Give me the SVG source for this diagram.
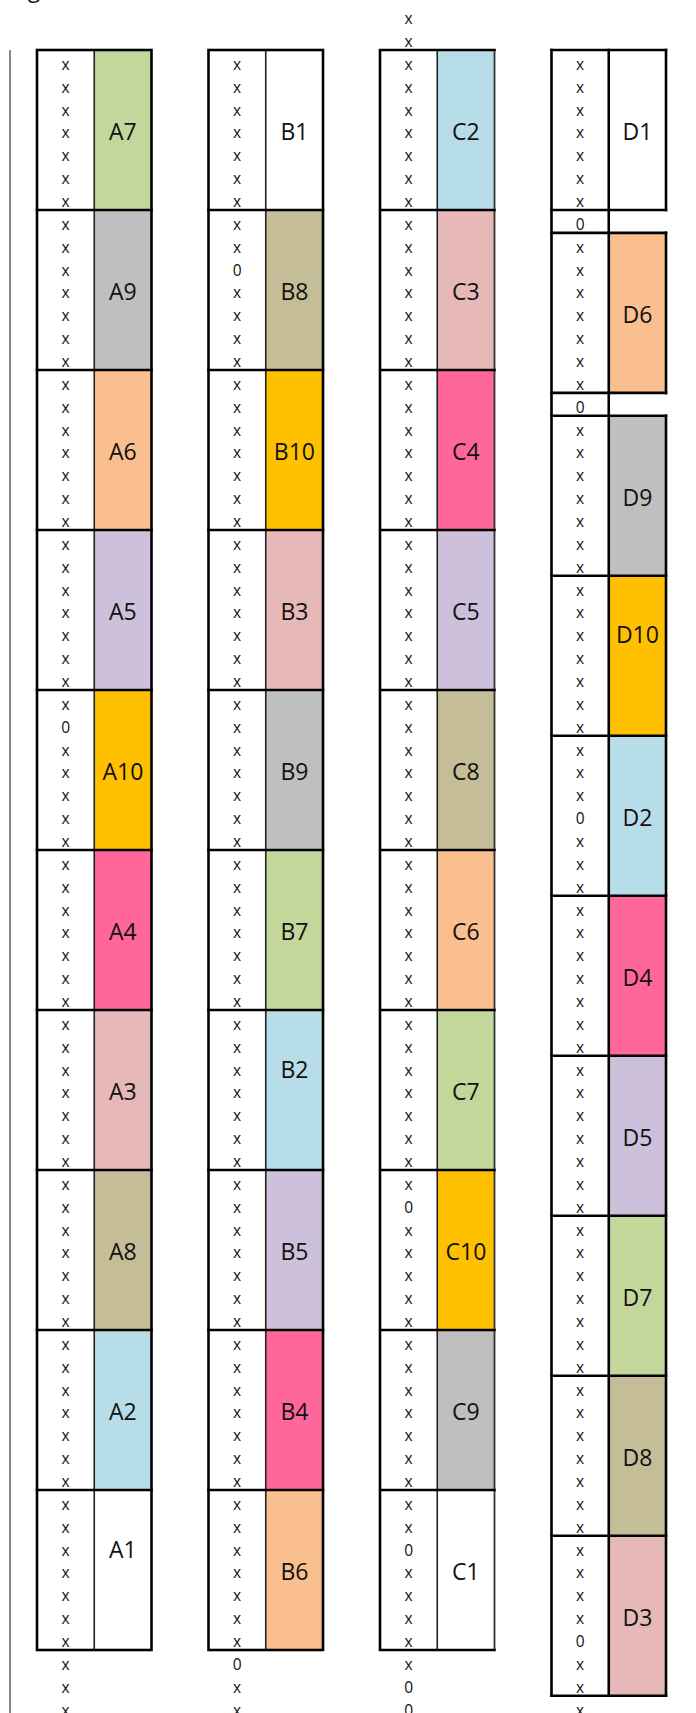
<svg xmlns="http://www.w3.org/2000/svg" width="696" height="1713" viewBox="0 0 696 1713">
<style>
.bg{fill:#ffffff}
.c1{fill:#ffffff}.c2{fill:#b7dee8}.c3{fill:#e6b8b7}.c4{fill:#ff6699}.c5{fill:#ccc0da}
.c6{fill:#f9bf8f}.c7{fill:#c4d79b}.c8{fill:#c4bd97}.c9{fill:#bfbfbf}.c10{fill:#ffc000}
text{font-family:"Open Sans","Liberation Sans",sans-serif;fill:#111;text-anchor:middle}
.x{font-size:15.5px}
.lab{font-size:23px}
.thick{fill:none;stroke:#000;stroke-width:2.6;stroke-linecap:square}
.thin{fill:none;stroke:#222;stroke-width:1.6}
.cthin{fill:none;stroke:#333;stroke-width:1.8}
.edge{fill:none;stroke:#555;stroke-width:1.4}
</style>
<rect class="bg" x="0" y="0" width="696" height="1713"/>
<text class="lab" x="34" y="-3.5">g</text>
<line class="edge" x1="10" y1="50" x2="10" y2="1713"/>

<!-- Column A -->
<g id="colA" transform="translate(37,0)">
<g id="A7" transform="translate(0,50)"><rect class="c7" x="57.25" width="57.25" height="160"/><text class="x"><tspan x="28.6" y="19.86">x</tspan><tspan x="28.6" y="42.71">x</tspan><tspan x="28.6" y="65.57">x</tspan><tspan x="28.6" y="88.43">x</tspan><tspan x="28.6" y="111.29">x</tspan><tspan x="28.6" y="134.14">x</tspan><tspan x="28.6" y="157">x</tspan></text><text class="lab" x="85.9" y="90.43">A7</text></g>
<g id="A9" transform="translate(0,210)"><rect class="c9" x="57.25" width="57.25" height="160"/><text class="x"><tspan x="28.6" y="19.86">x</tspan><tspan x="28.6" y="42.71">x</tspan><tspan x="28.6" y="65.57">x</tspan><tspan x="28.6" y="88.43">x</tspan><tspan x="28.6" y="111.29">x</tspan><tspan x="28.6" y="134.14">x</tspan><tspan x="28.6" y="157">x</tspan></text><text class="lab" x="85.9" y="90.43">A9</text></g>
<g id="A6" transform="translate(0,370)"><rect class="c6" x="57.25" width="57.25" height="160"/><text class="x"><tspan x="28.6" y="19.86">x</tspan><tspan x="28.6" y="42.71">x</tspan><tspan x="28.6" y="65.57">x</tspan><tspan x="28.6" y="88.43">x</tspan><tspan x="28.6" y="111.29">x</tspan><tspan x="28.6" y="134.14">x</tspan><tspan x="28.6" y="157">x</tspan></text><text class="lab" x="85.9" y="90.43">A6</text></g>
<g id="A5" transform="translate(0,530)"><rect class="c5" x="57.25" width="57.25" height="160"/><text class="x"><tspan x="28.6" y="19.86">x</tspan><tspan x="28.6" y="42.71">x</tspan><tspan x="28.6" y="65.57">x</tspan><tspan x="28.6" y="88.43">x</tspan><tspan x="28.6" y="111.29">x</tspan><tspan x="28.6" y="134.14">x</tspan><tspan x="28.6" y="157">x</tspan></text><text class="lab" x="85.9" y="90.43">A5</text></g>
<g id="A10" transform="translate(0,690)"><rect class="c10" x="57.25" width="57.25" height="160"/><text class="x"><tspan x="28.6" y="19.86">x</tspan><tspan x="28.6" y="42.71">0</tspan><tspan x="28.6" y="65.57">x</tspan><tspan x="28.6" y="88.43">x</tspan><tspan x="28.6" y="111.29">x</tspan><tspan x="28.6" y="134.14">x</tspan><tspan x="28.6" y="157">x</tspan></text><text class="lab" x="85.9" y="90.43">A10</text></g>
<g id="A4" transform="translate(0,850)"><rect class="c4" x="57.25" width="57.25" height="160"/><text class="x"><tspan x="28.6" y="19.86">x</tspan><tspan x="28.6" y="42.71">x</tspan><tspan x="28.6" y="65.57">x</tspan><tspan x="28.6" y="88.43">x</tspan><tspan x="28.6" y="111.29">x</tspan><tspan x="28.6" y="134.14">x</tspan><tspan x="28.6" y="157">x</tspan></text><text class="lab" x="85.9" y="90.43">A4</text></g>
<g id="A3" transform="translate(0,1010)"><rect class="c3" x="57.25" width="57.25" height="160"/><text class="x"><tspan x="28.6" y="19.86">x</tspan><tspan x="28.6" y="42.71">x</tspan><tspan x="28.6" y="65.57">x</tspan><tspan x="28.6" y="88.43">x</tspan><tspan x="28.6" y="111.29">x</tspan><tspan x="28.6" y="134.14">x</tspan><tspan x="28.6" y="157">x</tspan></text><text class="lab" x="85.9" y="90.43">A3</text></g>
<g id="A8" transform="translate(0,1170)"><rect class="c8" x="57.25" width="57.25" height="160"/><text class="x"><tspan x="28.6" y="19.86">x</tspan><tspan x="28.6" y="42.71">x</tspan><tspan x="28.6" y="65.57">x</tspan><tspan x="28.6" y="88.43">x</tspan><tspan x="28.6" y="111.29">x</tspan><tspan x="28.6" y="134.14">x</tspan><tspan x="28.6" y="157">x</tspan></text><text class="lab" x="85.9" y="90.43">A8</text></g>
<g id="A2" transform="translate(0,1330)"><rect class="c2" x="57.25" width="57.25" height="160"/><text class="x"><tspan x="28.6" y="19.86">x</tspan><tspan x="28.6" y="42.71">x</tspan><tspan x="28.6" y="65.57">x</tspan><tspan x="28.6" y="88.43">x</tspan><tspan x="28.6" y="111.29">x</tspan><tspan x="28.6" y="134.14">x</tspan><tspan x="28.6" y="157">x</tspan></text><text class="lab" x="85.9" y="90.43">A2</text></g>
<g id="A1" transform="translate(0,1490)"><rect class="c1" x="57.25" width="57.25" height="160"/><text class="x"><tspan x="28.6" y="19.86">x</tspan><tspan x="28.6" y="42.71">x</tspan><tspan x="28.6" y="65.57">x</tspan><tspan x="28.6" y="88.43">x</tspan><tspan x="28.6" y="111.29">x</tspan><tspan x="28.6" y="134.14">x</tspan><tspan x="28.6" y="157">x</tspan></text><text class="lab" x="85.9" y="67.57">A1</text></g>
<g id="A-below" transform="translate(0,1650)"><text class="x"><tspan x="28.6" y="19.86">x</tspan><tspan x="28.6" y="42.71">x</tspan><tspan x="28.6" y="65.57">x</tspan></text></g>
<g id="gridA">
<line class="thin" x1="57.25" y1="50" x2="57.25" y2="1650"/>
<path class="thick" d="M0 210H114.5M0 370H114.5M0 530H114.5M0 690H114.5M0 850H114.5M0 1010H114.5M0 1170H114.5M0 1330H114.5M0 1490H114.5"/>
<rect class="thick" x="0" y="50" width="114.5" height="1600"/>
</g>
</g>

<!-- Column B -->
<g id="colB" transform="translate(208.5,0)">
<g id="B1" transform="translate(0,50)"><rect class="c1" x="57.25" width="57.25" height="160"/><text class="x"><tspan x="28.6" y="19.86">x</tspan><tspan x="28.6" y="42.71">x</tspan><tspan x="28.6" y="65.57">x</tspan><tspan x="28.6" y="88.43">x</tspan><tspan x="28.6" y="111.29">x</tspan><tspan x="28.6" y="134.14">x</tspan><tspan x="28.6" y="157">x</tspan></text><text class="lab" x="85.9" y="90.43">B1</text></g>
<g id="B8" transform="translate(0,210)"><rect class="c8" x="57.25" width="57.25" height="160"/><text class="x"><tspan x="28.6" y="19.86">x</tspan><tspan x="28.6" y="42.71">x</tspan><tspan x="28.6" y="65.57">0</tspan><tspan x="28.6" y="88.43">x</tspan><tspan x="28.6" y="111.29">x</tspan><tspan x="28.6" y="134.14">x</tspan><tspan x="28.6" y="157">x</tspan></text><text class="lab" x="85.9" y="90.43">B8</text></g>
<g id="B10" transform="translate(0,370)"><rect class="c10" x="57.25" width="57.25" height="160"/><text class="x"><tspan x="28.6" y="19.86">x</tspan><tspan x="28.6" y="42.71">x</tspan><tspan x="28.6" y="65.57">x</tspan><tspan x="28.6" y="88.43">x</tspan><tspan x="28.6" y="111.29">x</tspan><tspan x="28.6" y="134.14">x</tspan><tspan x="28.6" y="157">x</tspan></text><text class="lab" x="85.9" y="90.43">B10</text></g>
<g id="B3" transform="translate(0,530)"><rect class="c3" x="57.25" width="57.25" height="160"/><text class="x"><tspan x="28.6" y="19.86">x</tspan><tspan x="28.6" y="42.71">x</tspan><tspan x="28.6" y="65.57">x</tspan><tspan x="28.6" y="88.43">x</tspan><tspan x="28.6" y="111.29">x</tspan><tspan x="28.6" y="134.14">x</tspan><tspan x="28.6" y="157">x</tspan></text><text class="lab" x="85.9" y="90.43">B3</text></g>
<g id="B9" transform="translate(0,690)"><rect class="c9" x="57.25" width="57.25" height="160"/><text class="x"><tspan x="28.6" y="19.86">x</tspan><tspan x="28.6" y="42.71">x</tspan><tspan x="28.6" y="65.57">x</tspan><tspan x="28.6" y="88.43">x</tspan><tspan x="28.6" y="111.29">x</tspan><tspan x="28.6" y="134.14">x</tspan><tspan x="28.6" y="157">x</tspan></text><text class="lab" x="85.9" y="90.43">B9</text></g>
<g id="B7" transform="translate(0,850)"><rect class="c7" x="57.25" width="57.25" height="160"/><text class="x"><tspan x="28.6" y="19.86">x</tspan><tspan x="28.6" y="42.71">x</tspan><tspan x="28.6" y="65.57">x</tspan><tspan x="28.6" y="88.43">x</tspan><tspan x="28.6" y="111.29">x</tspan><tspan x="28.6" y="134.14">x</tspan><tspan x="28.6" y="157">x</tspan></text><text class="lab" x="85.9" y="90.43">B7</text></g>
<g id="B2" transform="translate(0,1010)"><rect class="c2" x="57.25" width="57.25" height="160"/><text class="x"><tspan x="28.6" y="19.86">x</tspan><tspan x="28.6" y="42.71">x</tspan><tspan x="28.6" y="65.57">x</tspan><tspan x="28.6" y="88.43">x</tspan><tspan x="28.6" y="111.29">x</tspan><tspan x="28.6" y="134.14">x</tspan><tspan x="28.6" y="157">x</tspan></text><text class="lab" x="85.9" y="67.57">B2</text></g>
<g id="B5" transform="translate(0,1170)"><rect class="c5" x="57.25" width="57.25" height="160"/><text class="x"><tspan x="28.6" y="19.86">x</tspan><tspan x="28.6" y="42.71">x</tspan><tspan x="28.6" y="65.57">x</tspan><tspan x="28.6" y="88.43">x</tspan><tspan x="28.6" y="111.29">x</tspan><tspan x="28.6" y="134.14">x</tspan><tspan x="28.6" y="157">x</tspan></text><text class="lab" x="85.9" y="90.43">B5</text></g>
<g id="B4" transform="translate(0,1330)"><rect class="c4" x="57.25" width="57.25" height="160"/><text class="x"><tspan x="28.6" y="19.86">x</tspan><tspan x="28.6" y="42.71">x</tspan><tspan x="28.6" y="65.57">x</tspan><tspan x="28.6" y="88.43">x</tspan><tspan x="28.6" y="111.29">x</tspan><tspan x="28.6" y="134.14">x</tspan><tspan x="28.6" y="157">x</tspan></text><text class="lab" x="85.9" y="90.43">B4</text></g>
<g id="B6" transform="translate(0,1490)"><rect class="c6" x="57.25" width="57.25" height="160"/><text class="x"><tspan x="28.6" y="19.86">x</tspan><tspan x="28.6" y="42.71">x</tspan><tspan x="28.6" y="65.57">x</tspan><tspan x="28.6" y="88.43">x</tspan><tspan x="28.6" y="111.29">x</tspan><tspan x="28.6" y="134.14">x</tspan><tspan x="28.6" y="157">x</tspan></text><text class="lab" x="85.9" y="90.43">B6</text></g>
<g id="B-below" transform="translate(0,1650)"><text class="x"><tspan x="28.6" y="19.86">0</tspan><tspan x="28.6" y="42.71">x</tspan><tspan x="28.6" y="65.57">x</tspan></text></g>
<g id="gridB">
<line class="thin" x1="57.25" y1="50" x2="57.25" y2="1650"/>
<path class="thick" d="M0 210H114.5M0 370H114.5M0 530H114.5M0 690H114.5M0 850H114.5M0 1010H114.5M0 1170H114.5M0 1330H114.5M0 1490H114.5"/>
<rect class="thick" x="0" y="50" width="114.5" height="1600"/>
</g>
</g>

<!-- Column C -->
<g id="colC" transform="translate(380,0)">
<g id="C-above" transform="translate(0,4.29)"><text class="x"><tspan x="28.6" y="19.86">x</tspan><tspan x="28.6" y="42.71">x</tspan></text></g>
<g id="C2" transform="translate(0,50)"><rect class="c2" x="57.25" width="57.25" height="160"/><text class="x"><tspan x="28.6" y="19.86">x</tspan><tspan x="28.6" y="42.71">x</tspan><tspan x="28.6" y="65.57">x</tspan><tspan x="28.6" y="88.43">x</tspan><tspan x="28.6" y="111.29">x</tspan><tspan x="28.6" y="134.14">x</tspan><tspan x="28.6" y="157">x</tspan></text><text class="lab" x="85.9" y="90.43">C2</text></g>
<g id="C3" transform="translate(0,210)"><rect class="c3" x="57.25" width="57.25" height="160"/><text class="x"><tspan x="28.6" y="19.86">x</tspan><tspan x="28.6" y="42.71">x</tspan><tspan x="28.6" y="65.57">x</tspan><tspan x="28.6" y="88.43">x</tspan><tspan x="28.6" y="111.29">x</tspan><tspan x="28.6" y="134.14">x</tspan><tspan x="28.6" y="157">x</tspan></text><text class="lab" x="85.9" y="90.43">C3</text></g>
<g id="C4" transform="translate(0,370)"><rect class="c4" x="57.25" width="57.25" height="160"/><text class="x"><tspan x="28.6" y="19.86">x</tspan><tspan x="28.6" y="42.71">x</tspan><tspan x="28.6" y="65.57">x</tspan><tspan x="28.6" y="88.43">x</tspan><tspan x="28.6" y="111.29">x</tspan><tspan x="28.6" y="134.14">x</tspan><tspan x="28.6" y="157">x</tspan></text><text class="lab" x="85.9" y="90.43">C4</text></g>
<g id="C5" transform="translate(0,530)"><rect class="c5" x="57.25" width="57.25" height="160"/><text class="x"><tspan x="28.6" y="19.86">x</tspan><tspan x="28.6" y="42.71">x</tspan><tspan x="28.6" y="65.57">x</tspan><tspan x="28.6" y="88.43">x</tspan><tspan x="28.6" y="111.29">x</tspan><tspan x="28.6" y="134.14">x</tspan><tspan x="28.6" y="157">x</tspan></text><text class="lab" x="85.9" y="90.43">C5</text></g>
<g id="C8" transform="translate(0,690)"><rect class="c8" x="57.25" width="57.25" height="160"/><text class="x"><tspan x="28.6" y="19.86">x</tspan><tspan x="28.6" y="42.71">x</tspan><tspan x="28.6" y="65.57">x</tspan><tspan x="28.6" y="88.43">x</tspan><tspan x="28.6" y="111.29">x</tspan><tspan x="28.6" y="134.14">x</tspan><tspan x="28.6" y="157">x</tspan></text><text class="lab" x="85.9" y="90.43">C8</text></g>
<g id="C6" transform="translate(0,850)"><rect class="c6" x="57.25" width="57.25" height="160"/><text class="x"><tspan x="28.6" y="19.86">x</tspan><tspan x="28.6" y="42.71">x</tspan><tspan x="28.6" y="65.57">x</tspan><tspan x="28.6" y="88.43">x</tspan><tspan x="28.6" y="111.29">x</tspan><tspan x="28.6" y="134.14">x</tspan><tspan x="28.6" y="157">x</tspan></text><text class="lab" x="85.9" y="90.43">C6</text></g>
<g id="C7" transform="translate(0,1010)"><rect class="c7" x="57.25" width="57.25" height="160"/><text class="x"><tspan x="28.6" y="19.86">x</tspan><tspan x="28.6" y="42.71">x</tspan><tspan x="28.6" y="65.57">x</tspan><tspan x="28.6" y="88.43">x</tspan><tspan x="28.6" y="111.29">x</tspan><tspan x="28.6" y="134.14">x</tspan><tspan x="28.6" y="157">x</tspan></text><text class="lab" x="85.9" y="90.43">C7</text></g>
<g id="C10" transform="translate(0,1170)"><rect class="c10" x="57.25" width="57.25" height="160"/><text class="x"><tspan x="28.6" y="19.86">x</tspan><tspan x="28.6" y="42.71">0</tspan><tspan x="28.6" y="65.57">x</tspan><tspan x="28.6" y="88.43">x</tspan><tspan x="28.6" y="111.29">x</tspan><tspan x="28.6" y="134.14">x</tspan><tspan x="28.6" y="157">x</tspan></text><text class="lab" x="85.9" y="90.43">C10</text></g>
<g id="C9" transform="translate(0,1330)"><rect class="c9" x="57.25" width="57.25" height="160"/><text class="x"><tspan x="28.6" y="19.86">x</tspan><tspan x="28.6" y="42.71">x</tspan><tspan x="28.6" y="65.57">x</tspan><tspan x="28.6" y="88.43">x</tspan><tspan x="28.6" y="111.29">x</tspan><tspan x="28.6" y="134.14">x</tspan><tspan x="28.6" y="157">x</tspan></text><text class="lab" x="85.9" y="90.43">C9</text></g>
<g id="C1" transform="translate(0,1490)"><rect class="c1" x="57.25" width="57.25" height="160"/><text class="x"><tspan x="28.6" y="19.86">x</tspan><tspan x="28.6" y="42.71">x</tspan><tspan x="28.6" y="65.57">0</tspan><tspan x="28.6" y="88.43">x</tspan><tspan x="28.6" y="111.29">x</tspan><tspan x="28.6" y="134.14">x</tspan><tspan x="28.6" y="157">x</tspan></text><text class="lab" x="85.9" y="90.43">C1</text></g>
<g id="C-below" transform="translate(0,1650)"><text class="x"><tspan x="28.6" y="19.86">x</tspan><tspan x="28.6" y="42.71">0</tspan><tspan x="28.6" y="65.57">0</tspan></text></g>
<g id="gridC">
<line class="thin" x1="57.25" y1="50" x2="57.25" y2="1650"/>
<line class="cthin" x1="114.5" y1="50" x2="114.5" y2="1650"/>
<path class="thick" d="M0 210H114.5M0 370H114.5M0 530H114.5M0 690H114.5M0 850H114.5M0 1010H114.5M0 1170H114.5M0 1330H114.5M0 1490H114.5M114.5 50H0V1650H114.5"/>
</g>
</g>

<!-- Column D -->
<g id="colD" transform="translate(551.5,0)">
<g id="D1" transform="translate(0,50)"><rect class="c1" x="57.25" width="57.25" height="160"/><text class="x"><tspan x="28.6" y="19.86">x</tspan><tspan x="28.6" y="42.71">x</tspan><tspan x="28.6" y="65.57">x</tspan><tspan x="28.6" y="88.43">x</tspan><tspan x="28.6" y="111.29">x</tspan><tspan x="28.6" y="134.14">x</tspan><tspan x="28.6" y="157">x</tspan></text><text class="lab" x="85.9" y="90.43">D1</text></g>
<g id="D-gap1" transform="translate(0,210)"><text class="x" x="28.6" y="19.86">0</text></g>
<g id="D6" transform="translate(0,232.857)"><rect class="c6" x="57.25" width="57.25" height="160"/><text class="x"><tspan x="28.6" y="19.86">x</tspan><tspan x="28.6" y="42.71">x</tspan><tspan x="28.6" y="65.57">x</tspan><tspan x="28.6" y="88.43">x</tspan><tspan x="28.6" y="111.29">x</tspan><tspan x="28.6" y="134.14">x</tspan><tspan x="28.6" y="157">x</tspan></text><text class="lab" x="85.9" y="90.43">D6</text></g>
<g id="D-gap2" transform="translate(0,392.857)"><text class="x" x="28.6" y="19.86">0</text></g>
<g id="D9" transform="translate(0,415.714)"><rect class="c9" x="57.25" width="57.25" height="160"/><text class="x"><tspan x="28.6" y="19.86">x</tspan><tspan x="28.6" y="42.71">x</tspan><tspan x="28.6" y="65.57">x</tspan><tspan x="28.6" y="88.43">x</tspan><tspan x="28.6" y="111.29">x</tspan><tspan x="28.6" y="134.14">x</tspan><tspan x="28.6" y="157">x</tspan></text><text class="lab" x="85.9" y="90.43">D9</text></g>
<g id="D10" transform="translate(0,575.714)"><rect class="c10" x="57.25" width="57.25" height="160"/><text class="x"><tspan x="28.6" y="19.86">x</tspan><tspan x="28.6" y="42.71">x</tspan><tspan x="28.6" y="65.57">x</tspan><tspan x="28.6" y="88.43">x</tspan><tspan x="28.6" y="111.29">x</tspan><tspan x="28.6" y="134.14">x</tspan><tspan x="28.6" y="157">x</tspan></text><text class="lab" x="85.9" y="67.57">D10</text></g>
<g id="D2" transform="translate(0,735.714)"><rect class="c2" x="57.25" width="57.25" height="160"/><text class="x"><tspan x="28.6" y="19.86">x</tspan><tspan x="28.6" y="42.71">x</tspan><tspan x="28.6" y="65.57">x</tspan><tspan x="28.6" y="88.43">0</tspan><tspan x="28.6" y="111.29">x</tspan><tspan x="28.6" y="134.14">x</tspan><tspan x="28.6" y="157">x</tspan></text><text class="lab" x="85.9" y="90.43">D2</text></g>
<g id="D4" transform="translate(0,895.714)"><rect class="c4" x="57.25" width="57.25" height="160"/><text class="x"><tspan x="28.6" y="19.86">x</tspan><tspan x="28.6" y="42.71">x</tspan><tspan x="28.6" y="65.57">x</tspan><tspan x="28.6" y="88.43">x</tspan><tspan x="28.6" y="111.29">x</tspan><tspan x="28.6" y="134.14">x</tspan><tspan x="28.6" y="157">x</tspan></text><text class="lab" x="85.9" y="90.43">D4</text></g>
<g id="D5" transform="translate(0,1055.714)"><rect class="c5" x="57.25" width="57.25" height="160"/><text class="x"><tspan x="28.6" y="19.86">x</tspan><tspan x="28.6" y="42.71">x</tspan><tspan x="28.6" y="65.57">x</tspan><tspan x="28.6" y="88.43">x</tspan><tspan x="28.6" y="111.29">x</tspan><tspan x="28.6" y="134.14">x</tspan><tspan x="28.6" y="157">x</tspan></text><text class="lab" x="85.9" y="90.43">D5</text></g>
<g id="D7" transform="translate(0,1215.714)"><rect class="c7" x="57.25" width="57.25" height="160"/><text class="x"><tspan x="28.6" y="19.86">x</tspan><tspan x="28.6" y="42.71">x</tspan><tspan x="28.6" y="65.57">x</tspan><tspan x="28.6" y="88.43">x</tspan><tspan x="28.6" y="111.29">x</tspan><tspan x="28.6" y="134.14">x</tspan><tspan x="28.6" y="157">x</tspan></text><text class="lab" x="85.9" y="90.43">D7</text></g>
<g id="D8" transform="translate(0,1375.714)"><rect class="c8" x="57.25" width="57.25" height="160"/><text class="x"><tspan x="28.6" y="19.86">x</tspan><tspan x="28.6" y="42.71">x</tspan><tspan x="28.6" y="65.57">x</tspan><tspan x="28.6" y="88.43">x</tspan><tspan x="28.6" y="111.29">x</tspan><tspan x="28.6" y="134.14">x</tspan><tspan x="28.6" y="157">x</tspan></text><text class="lab" x="85.9" y="90.43">D8</text></g>
<g id="D3" transform="translate(0,1535.714)"><rect class="c3" x="57.25" width="57.25" height="160"/><text class="x"><tspan x="28.6" y="19.86">x</tspan><tspan x="28.6" y="42.71">x</tspan><tspan x="28.6" y="65.57">x</tspan><tspan x="28.6" y="88.43">x</tspan><tspan x="28.6" y="111.29">0</tspan><tspan x="28.6" y="134.14">x</tspan><tspan x="28.6" y="157">x</tspan></text><text class="lab" x="85.9" y="90.43">D3</text></g>
<g id="D-below" transform="translate(0,1695.714)"><text class="x" x="28.6" y="19.86">x</text></g>
<g id="gridD">
<path class="thick" d="M0 50V1695.71M57.25 50V1695.71M114.5 50V210M114.5 232.86V392.86M114.5 415.71V1695.71"/>
<path class="thick" d="M0 50H114.5M0 210H114.5M0 232.86H114.5M0 392.86H114.5M0 415.71H114.5M0 575.71H114.5M0 735.71H114.5M0 895.71H114.5M0 1055.71H114.5M0 1215.71H114.5M0 1375.71H114.5M0 1535.71H114.5M0 1695.71H114.5"/>
</g>
</g>
</svg>
